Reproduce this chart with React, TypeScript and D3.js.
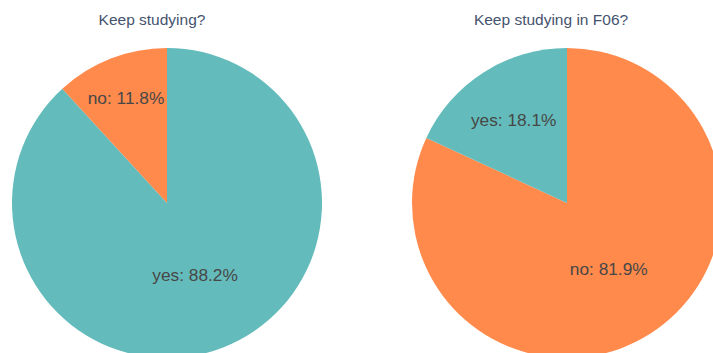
import React from "react";
import * as d3 from "d3";

const titles = ["Keep studying?", "Keep studying in F06?"];
const leftLabels = ["yes", "no"];
const leftValues = [88.2, 11.8];
const rightLabels = ["no", "yes"];
const rightValues = [81.9, 18.1];
const colorByLabel: Record<string, string> = { yes: "#64BBBB", no: "#FF8A4C" };

const W = 713;
const H = 353;
const R = 155;
const centers = [
  { cx: 167, cy: 203, tx: 152 },
  { cx: 567, cy: 203, tx: 551 },
];

function Pie({ labels, values, cx, cy, title, tx }: any) {
  const data = labels.map((l: string, i: number) => ({ label: l, value: values[i] }));
  const pie = d3.pie<any>().value((d) => d.value).sort(null).startAngle(0).endAngle(2 * Math.PI);
  const arcs = pie(data);
  const arc = d3.arc<any>().innerRadius(0).outerRadius(R);
  return (
    <g>
      <text x={tx} y={25} textAnchor="middle" fontSize={15.5} fill="#46536e"
        fontFamily="'Liberation Sans', Arial, sans-serif">{title}</text>
      <g transform={`translate(${cx},${cy})`}>
        {arcs.map((a: any, i: number) => (
          <path key={i} d={arc(a) as string} fill={colorByLabel[a.data.label]} />
        ))}
        {arcs.map((a: any, i: number) => {
          const span = ((a.endAngle - a.startAngle) * 180) / Math.PI;
          const mid = (a.startAngle + a.endAngle) / 2;
          const frac = span > 180 ? 0.5 : 0.73 - (span - 42.5) * 0.004;
          const x = Math.sin(mid) * R * frac;
          const y = -Math.cos(mid) * R * frac;
          return (
            <text key={"t" + i} x={x} y={y} dy="0.36em" textAnchor="middle" fontSize={17.3}
              fill="#474747" fontFamily="'Liberation Sans', Arial, sans-serif">
              {`${a.data.label}: ${a.data.value.toFixed(1)}%`}
            </text>
          );
        })}
      </g>
    </g>
  );
}

export default function App() {
  return (
    <svg width={W} height={H} style={{ position: "fixed", left: 0, top: 0, background: "#fff" }}>
      <rect width={W} height={H} fill="#fff" />
      <Pie labels={leftLabels} values={leftValues} title={titles[0]} {...centers[0]} />
      <Pie labels={rightLabels} values={rightValues} title={titles[1]} {...centers[1]} />
    </svg>
  );
}
